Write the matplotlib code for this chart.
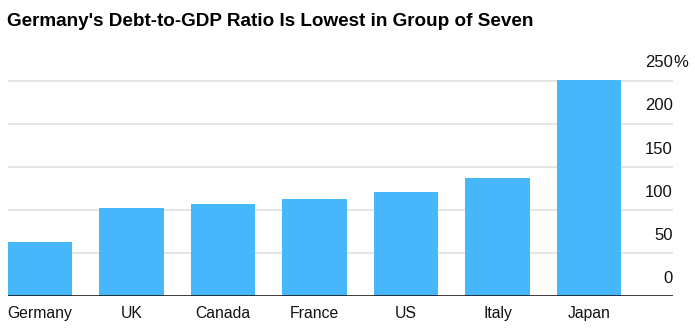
import matplotlib
matplotlib.use('Agg')
import matplotlib.pyplot as plt
import matplotlib.transforms as mtransforms
import numpy as np

countries = ['Germany', 'UK', 'Canada', 'France', 'US', 'Italy', 'Japan']
debt_ratio = [62.6, 102, 106.3, 112.5, 121, 137, 251]
y_ticks = [0, 50, 100, 150, 200, 250]

bar_color = '#47b7fb'
grid_color = '#e0e0e0'

plt.rcParams['font.family'] = ['Liberation Sans', 'DejaVu Sans']

fig = plt.figure(figsize=(6.95, 3.34), dpi=100)
ax = fig.add_axes([8 / 695, 1 - 296 / 334, (673 - 8) / 695, (296 - 76.2) / 334])

x = np.arange(len(countries))
ax.bar(x, debt_ratio, width=0.7, color=bar_color, zorder=2)

ax.set_xlim(-0.35, len(countries) - 1 + 0.918)
ax.set_ylim(0, 255)

for t in y_ticks[1:]:
    ax.axhline(t, color=grid_color, linewidth=1.2, zorder=1)
ax.axhline(0, color='#1a1a1a', linewidth=1.2, zorder=3)

# y labels sit above the gridlines at the right end
offset = mtransforms.offset_copy(ax.get_yaxis_transform(), fig=fig, x=0, y=7.3, units='points')
for t in y_ticks:
    ax.text(1.0, t, str(t), transform=offset, ha='right', va='bottom', fontsize=12, color='#111111')
    if t == y_ticks[-1]:
        ax.text(1.0, t, '%', transform=offset, ha='left', va='bottom', fontsize=12, color='#111111')

ax.set_yticks([])
ax.set_xticks(x)
ax.set_xticklabels(countries, fontsize=11.3, color='#111111')
ax.tick_params(axis='x', length=0, pad=7.5)
for s in ax.spines.values():
    s.set_visible(False)

fig.text(7 / 695, 1 - 26 / 334, "Germany's Debt-to-GDP Ratio Is Lowest in Group of Seven",
         fontsize=13.6, fontweight='bold', ha='left', va='baseline', color='#000000')

fig.savefig('out.png', dpi=100)
